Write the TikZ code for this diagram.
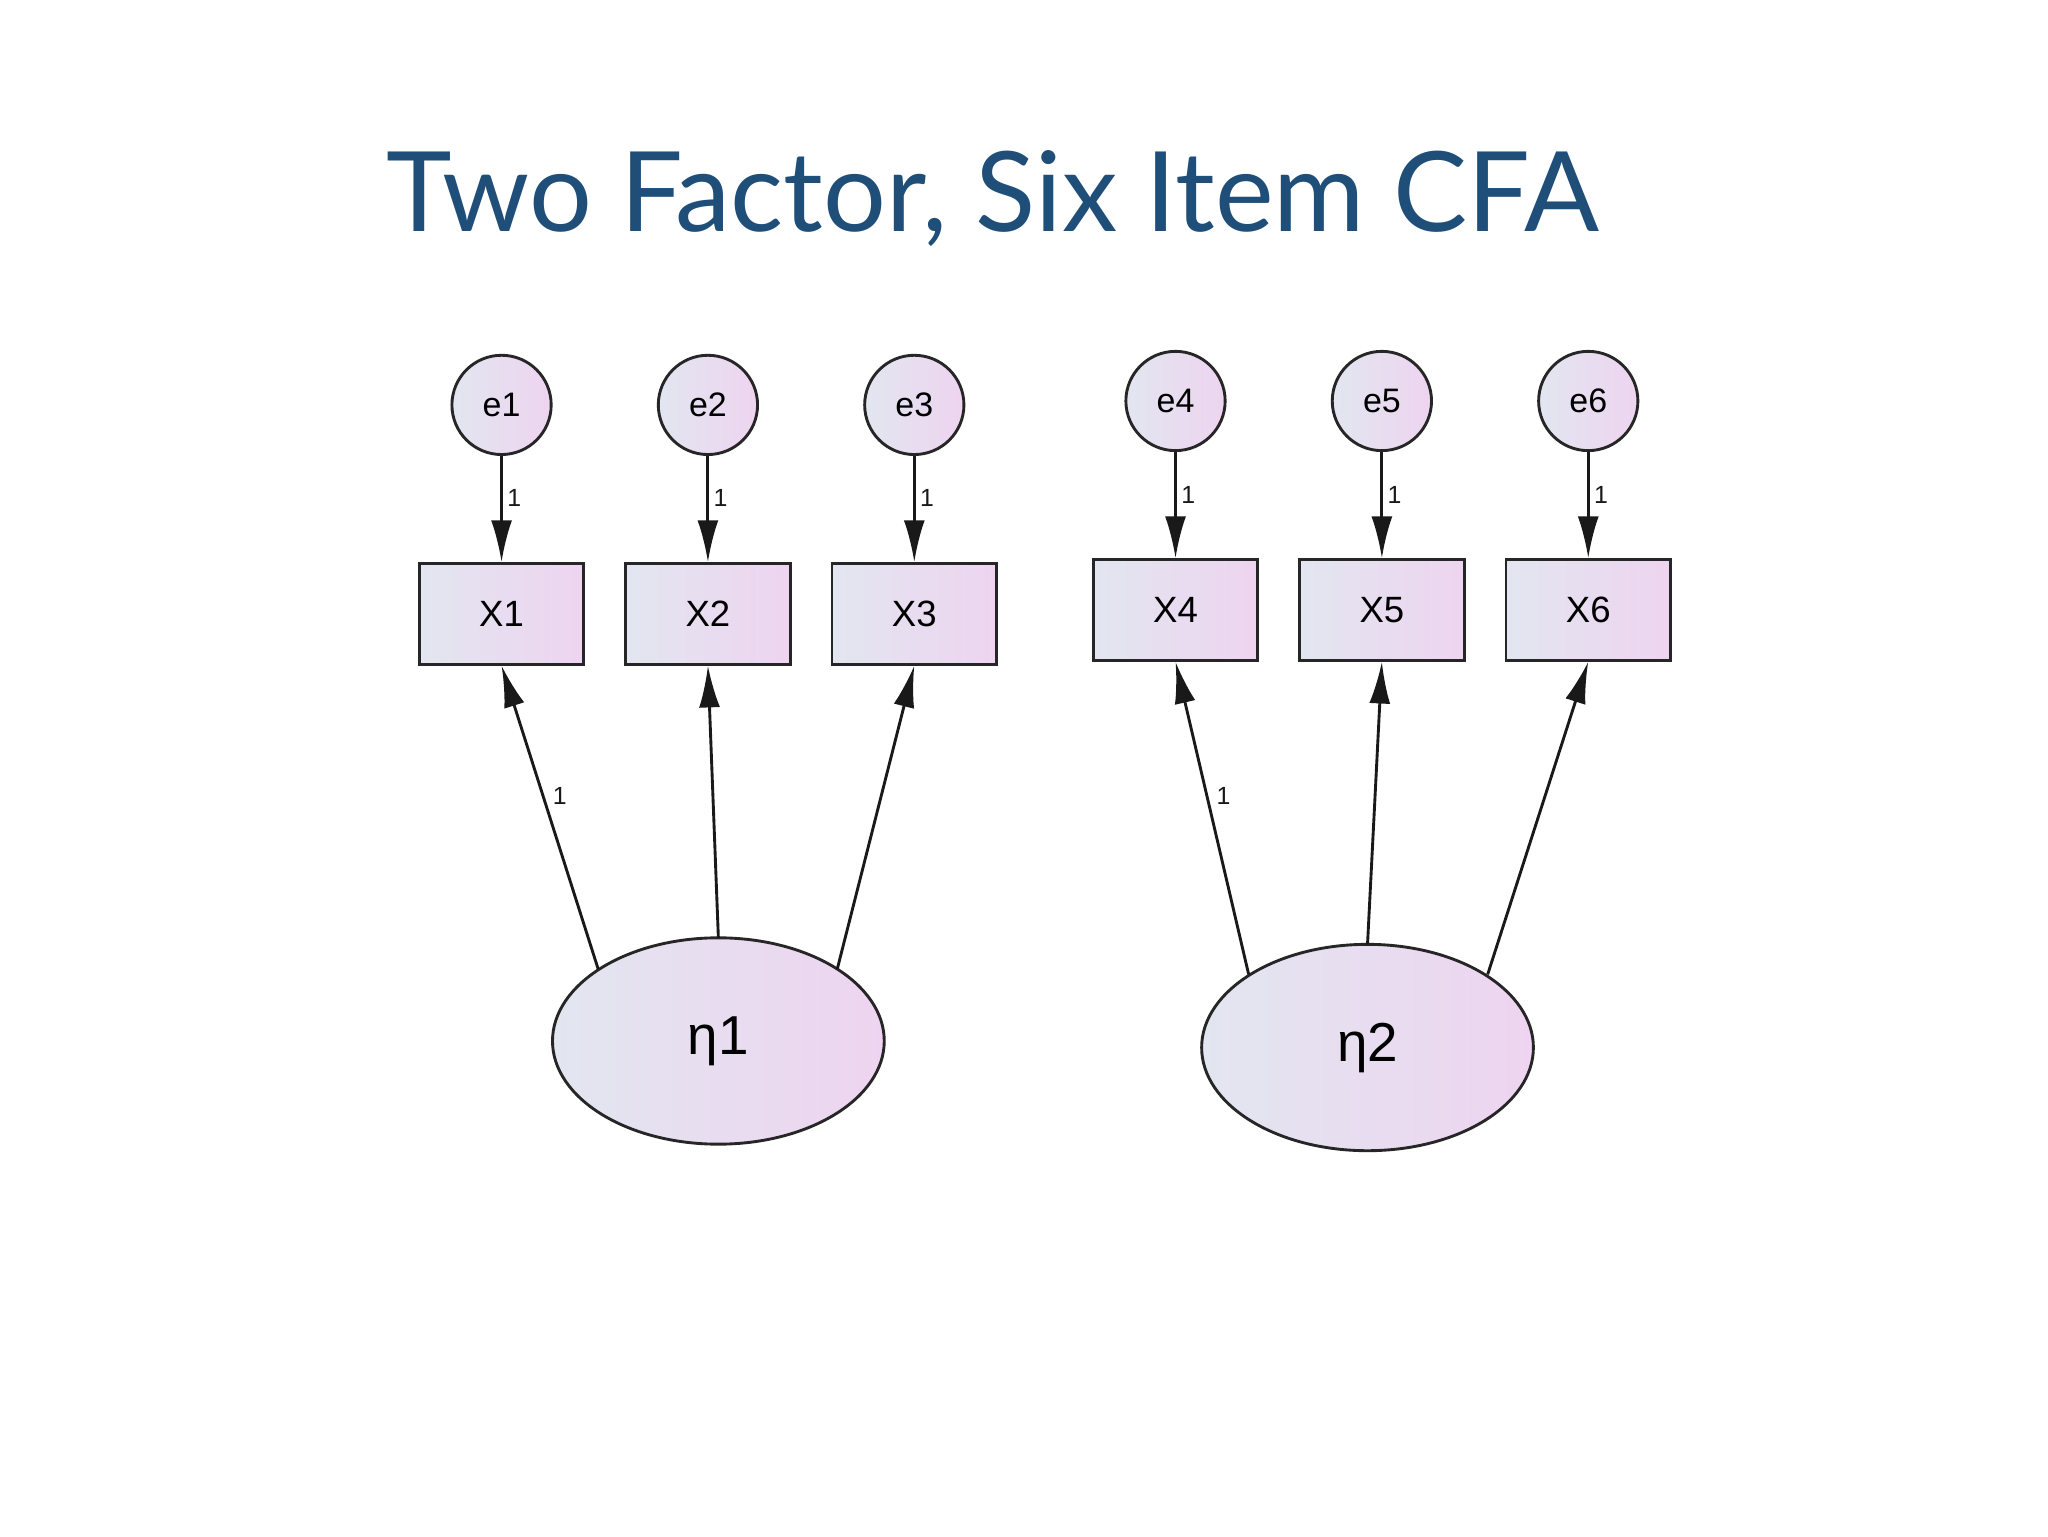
\documentclass[tikz,border=0pt]{standalone}
\usepackage{fontspec}
\setmainfont{Liberation Sans}
\newfontfamily\titlefont{Lato}
\usetikzlibrary{arrows.meta,shapes.geometric}
\definecolor{titleblue}{RGB}{31,78,121}
\tikzset{
 fillgrad/.style={left color={rgb,255:red,226;green,230;blue,240},right color={rgb,255:red,238;green,212;blue,240},draw=black!85,line width=2.2pt},
 errc/.style={circle,fillgrad,minimum size=76pt,inner sep=0pt,font=\fontsize{26}{30}\selectfont},
 obs/.style={rectangle,fillgrad,minimum width=126pt,minimum height=77pt,inner sep=0pt,font=\fontsize{28}{32}\selectfont},
 lat/.style={ellipse,fillgrad,minimum width=254pt,minimum height=158pt,inner sep=0pt,font=\fontsize{42}{48}\selectfont},
 arr/.style={-{Latex[length=32pt,width=16pt]},line width=2.2pt,black!90},
 one/.style={font=\fontsize{19}{22}\selectfont}
}
\begin{document}
\begin{tikzpicture}[x=1pt,y=-1pt]
\useasboundingbox (0,0) rectangle (1568,1176);
\fill[white] (0,0) rectangle (1568,1176);
\node[font=\titlefont\fontsize{85}{95}\selectfont,text=titleblue] (title) at (760,152) {Two Factor, Six Item CFA};
\foreach \i/\x/\y in {1/384/310,2/542/310,3/700/310,4/900/307,5/1058/307,6/1216/307}{
 \node[errc] (e\i) at (\x,\y) {e\i};
 \node[obs] (x\i) at (\x,\y+160) {X\i};
 \draw[arr] (e\i) -- node[one,right,pos=0.4]{1} (x\i);
}
\node[lat] (eta1) at (550,797) {η1};
\node[lat] (eta2) at (1047,802) {η2};
\coordinate (a1) at (458,742); \coordinate (a2) at (550,718); \coordinate (a3) at (641,742);
\coordinate (b1) at (956,746); \coordinate (b2) at (1047,723); \coordinate (b3) at (1139,746);
\draw[arr] (a1) -- node[one,right,pos=0.57,xshift=3pt]{1} (x1.south);
\draw[arr] (a2) -- (x2.south);
\draw[arr] (a3) -- (x3.south);
\draw[arr] (b1) -- node[one,right,pos=0.57,xshift=3pt]{1} (x4.south);
\draw[arr] (b2) -- (x5.south);
\draw[arr] (b3) -- (x6.south);
\end{tikzpicture}
\end{document}
